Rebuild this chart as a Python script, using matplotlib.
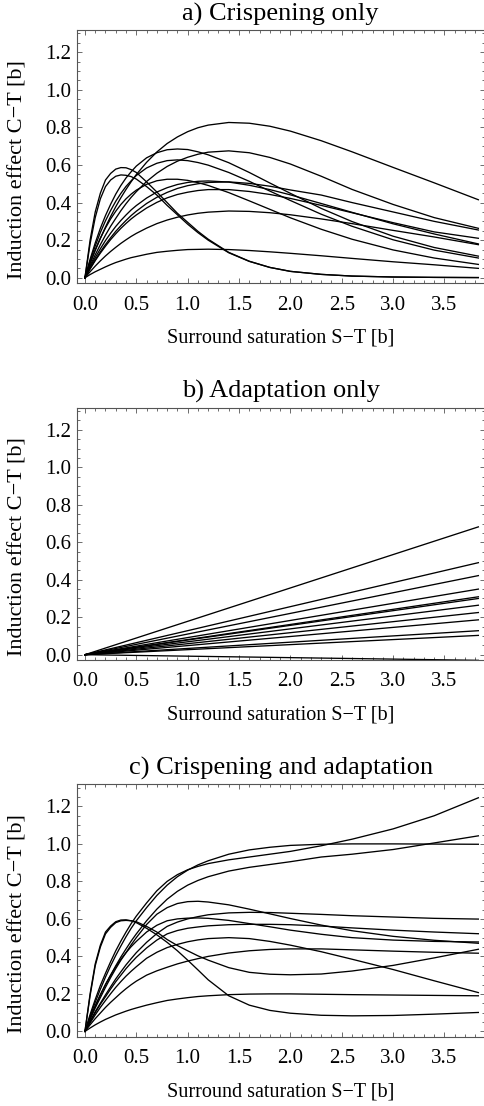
import matplotlib
matplotlib.use('Agg')
import matplotlib.pyplot as plt
from matplotlib.ticker import MultipleLocator


# Sample positions along surround saturation S-T [b]
x_grid = [0, 0.05, 0.1, 0.15, 0.2, 0.25, 0.3, 0.35, 0.4, 0.45, 0.5, 0.6, 0.7, 0.8, 0.9,
          1.0, 1.1, 1.2, 1.4, 1.6, 1.8, 2.0, 2.3, 2.6, 3.0, 3.4, 3.83]

# a) Crispening only
crisp_curves = [
    [0, 0.20, 0.35, 0.45, 0.52, 0.555, 0.578, 0.586, 0.585, 0.575, 0.56, 0.51, 0.456, 0.40, 0.343, 0.295, 0.247, 0.205, 0.135, 0.088, 0.055, 0.034, 0.018, 0.009, 0.004, 0.002, 0.001],
    [0, 0.18, 0.32, 0.42, 0.485, 0.52, 0.54, 0.547, 0.545, 0.538, 0.525, 0.485, 0.44, 0.385, 0.335, 0.285, 0.24, 0.2, 0.133, 0.087, 0.055, 0.034, 0.018, 0.009, 0.004, 0.002, 0.001],
    [0, 0.075, 0.145, 0.209, 0.27, 0.326, 0.378, 0.426, 0.47, 0.511, 0.549, 0.614, 0.669, 0.714, 0.749, 0.777, 0.798, 0.812, 0.826, 0.822, 0.806, 0.78, 0.729, 0.67, 0.587, 0.505, 0.415],
    [0, 0.098, 0.185, 0.263, 0.331, 0.391, 0.445, 0.491, 0.531, 0.564, 0.594, 0.638, 0.665, 0.681, 0.685, 0.682, 0.670, 0.654, 0.612, 0.56, 0.504, 0.449, 0.369, 0.299, 0.221, 0.161, 0.115],
    [0, 0.063, 0.122, 0.176, 0.227, 0.274, 0.316, 0.357, 0.394, 0.428, 0.458, 0.512, 0.556, 0.592, 0.620, 0.641, 0.657, 0.668, 0.675, 0.665, 0.64, 0.605, 0.54, 0.47, 0.39, 0.32, 0.263],
    [0, 0.090, 0.169, 0.241, 0.303, 0.358, 0.407, 0.449, 0.486, 0.516, 0.544, 0.584, 0.609, 0.623, 0.627, 0.623, 0.613, 0.599, 0.560, 0.513, 0.461, 0.411, 0.338, 0.274, 0.202, 0.147, 0.105],
    [0, 0.079, 0.149, 0.211, 0.265, 0.313, 0.354, 0.390, 0.420, 0.445, 0.466, 0.497, 0.516, 0.524, 0.524, 0.518, 0.506, 0.491, 0.453, 0.409, 0.364, 0.319, 0.258, 0.205, 0.148, 0.105, 0.071],
    [0, 0.056, 0.107, 0.154, 0.198, 0.237, 0.273, 0.305, 0.334, 0.361, 0.384, 0.424, 0.456, 0.479, 0.496, 0.507, 0.513, 0.515, 0.509, 0.492, 0.469, 0.441, 0.395, 0.348, 0.287, 0.233, 0.18],
    [0, 0.049, 0.095, 0.138, 0.177, 0.213, 0.247, 0.277, 0.305, 0.331, 0.354, 0.395, 0.428, 0.454, 0.475, 0.490, 0.500, 0.507, 0.510, 0.502, 0.487, 0.467, 0.44, 0.40, 0.35, 0.30, 0.254],
    [0, 0.047, 0.091, 0.131, 0.168, 0.203, 0.234, 0.263, 0.289, 0.313, 0.334, 0.371, 0.401, 0.425, 0.443, 0.455, 0.464, 0.469, 0.469, 0.459, 0.443, 0.422, 0.385, 0.346, 0.293, 0.244, 0.21],
    [0, 0.032, 0.062, 0.090, 0.116, 0.140, 0.162, 0.183, 0.202, 0.220, 0.236, 0.264, 0.288, 0.307, 0.322, 0.334, 0.343, 0.349, 0.355, 0.353, 0.346, 0.335, 0.313, 0.288, 0.252, 0.217, 0.176],
    [0, 0.017, 0.032, 0.045, 0.058, 0.070, 0.081, 0.090, 0.099, 0.107, 0.113, 0.125, 0.135, 0.141, 0.146, 0.150, 0.151, 0.152, 0.150, 0.145, 0.138, 0.130, 0.117, 0.103, 0.085, 0.069, 0.05],
]

# b) Adaptation only: straight lines from the origin, value at the right end
adapt_x = [0, 3.83]
adapt_end = [0.682, 0.491, 0.422, 0.350, 0.309, 0.300, 0.264, 0.225, 0.186, 0.128, 0.103, -0.03]

# c) Crispening and adaptation
both_curves = [
    [0, 0.09, 0.17, 0.245, 0.31, 0.372, 0.43, 0.482, 0.53, 0.575, 0.615, 0.685, 0.75, 0.80, 0.836, 0.862, 0.88, 0.895, 0.915, 0.93, 0.945, 0.96, 0.99, 1.025, 1.08, 1.15, 1.246],
    [0, 0.08, 0.155, 0.225, 0.29, 0.35, 0.405, 0.456, 0.505, 0.55, 0.59, 0.66, 0.725, 0.78, 0.825, 0.86, 0.888, 0.91, 0.945, 0.968, 0.982, 0.992, 0.998, 1.0, 1.0, 0.999, 0.998],
    [0, 0.07, 0.135, 0.195, 0.25, 0.30, 0.35, 0.397, 0.44, 0.482, 0.52, 0.59, 0.652, 0.705, 0.747, 0.78, 0.805, 0.825, 0.855, 0.875, 0.89, 0.905, 0.93, 0.945, 0.97, 1.005, 1.043],
    [0, 0.065, 0.125, 0.18, 0.235, 0.287, 0.335, 0.38, 0.42, 0.462, 0.50, 0.57, 0.625, 0.66, 0.682, 0.692, 0.694, 0.69, 0.675, 0.652, 0.627, 0.602, 0.567, 0.537, 0.507, 0.486, 0.47],
    [0, 0.055, 0.105, 0.15, 0.195, 0.238, 0.28, 0.318, 0.355, 0.388, 0.42, 0.475, 0.522, 0.56, 0.583, 0.6, 0.612, 0.622, 0.632, 0.635, 0.634, 0.63, 0.624, 0.617, 0.61, 0.603, 0.599],
    [0, 0.07, 0.135, 0.195, 0.25, 0.30, 0.345, 0.385, 0.42, 0.452, 0.48, 0.53, 0.566, 0.59, 0.6, 0.604, 0.605, 0.603, 0.592, 0.575, 0.558, 0.54, 0.518, 0.5, 0.487, 0.48, 0.477],
    [0, 0.05, 0.1, 0.145, 0.185, 0.226, 0.265, 0.30, 0.335, 0.366, 0.395, 0.445, 0.487, 0.52, 0.538, 0.55, 0.557, 0.563, 0.569, 0.571, 0.571, 0.569, 0.562, 0.552, 0.54, 0.53, 0.521],
    [0, 0.045, 0.088, 0.128, 0.165, 0.201, 0.235, 0.266, 0.295, 0.321, 0.345, 0.39, 0.422, 0.447, 0.464, 0.478, 0.488, 0.495, 0.5, 0.495, 0.48, 0.46, 0.425, 0.385, 0.33, 0.27, 0.207],
    [0, 0.035, 0.068, 0.098, 0.128, 0.155, 0.18, 0.205, 0.228, 0.249, 0.268, 0.3, 0.323, 0.342, 0.36, 0.375, 0.388, 0.4, 0.418, 0.43, 0.437, 0.44, 0.44, 0.435, 0.428, 0.422, 0.417],
    [0, 0.018, 0.035, 0.05, 0.064, 0.076, 0.088, 0.098, 0.108, 0.117, 0.125, 0.14, 0.153, 0.165, 0.173, 0.18, 0.186, 0.19, 0.196, 0.199, 0.2, 0.2, 0.198, 0.196, 0.194, 0.192, 0.19],
    [0, 0.2, 0.36, 0.46, 0.53, 0.562, 0.585, 0.594, 0.595, 0.59, 0.58, 0.55, 0.515, 0.475, 0.43, 0.38, 0.328, 0.275, 0.19, 0.14, 0.112, 0.097, 0.086, 0.083, 0.085, 0.092, 0.101],
    [0, 0.19, 0.35, 0.45, 0.52, 0.555, 0.58, 0.59, 0.592, 0.59, 0.585, 0.56, 0.53, 0.49, 0.458, 0.43, 0.403, 0.38, 0.34, 0.315, 0.305, 0.302, 0.306, 0.322, 0.352, 0.392, 0.438],
]

titles = ['a) Crispening only', 'b) Adaptation only', 'c) Crispening and adaptation']
x_label = 'Surround saturation S\u2212T [b]'
y_label = 'Induction effect C\u2212T [b]'

plt.rcParams['font.family'] = ['Liberation Serif', 'DejaVu Serif']

FRAME = '#555555'
LW = 0.95


def style_axes(ax, title):
    ax.set_xlim(-0.081, 3.89)
    ax.set_ylim(-0.028, 1.318)
    ax.xaxis.set_major_locator(MultipleLocator(0.5))
    ax.xaxis.set_minor_locator(MultipleLocator(0.1))
    ax.yaxis.set_major_locator(MultipleLocator(0.2))
    ax.yaxis.set_minor_locator(MultipleLocator(0.05))
    ax.xaxis.set_major_formatter(lambda v, p: f'{v:.1f}')
    ax.yaxis.set_major_formatter(lambda v, p: f'{v:.1f}')
    ax.tick_params(which='both', direction='in', top=True, right=True,
                   color=FRAME, width=0.6, labelsize=15)
    ax.tick_params(which='major', length=3.6)
    ax.tick_params(which='minor', length=1.9)
    ax.tick_params(axis='x', pad=9)
    ax.tick_params(axis='y', pad=4)
    for s in ax.spines.values():
        s.set_color(FRAME)
        s.set_linewidth(0.8)
    ax.set_title(title, fontsize=19, pad=7)
    ax.set_xlabel(x_label, fontsize=14.5)
    ax.set_ylabel(y_label, fontsize=16)
    ax.xaxis.set_label_coords(0.5, -0.18)
    ax.yaxis.set_label_coords(-0.12, 0.45)


fig = plt.figure(figsize=(4.85, 11.06), dpi=100)
left, width = 0.158, 0.841
ax_a = fig.add_axes([left, 0.7441, width, 0.2288])
ax_b = fig.add_axes([left, 0.4033, width, 0.2281])
ax_c = fig.add_axes([left, 0.0627, width, 0.2282])

for ys in crisp_curves:
    ax_a.plot(x_grid, ys, color='black', lw=LW)
for end in adapt_end:
    ax_b.plot(adapt_x, [0, end], color='black', lw=LW)
for ys in both_curves:
    ax_c.plot(x_grid, ys, color='black', lw=LW)

for ax, title in zip([ax_a, ax_b, ax_c], titles):
    style_axes(ax, title)

fig.savefig('out.png', dpi=100)
